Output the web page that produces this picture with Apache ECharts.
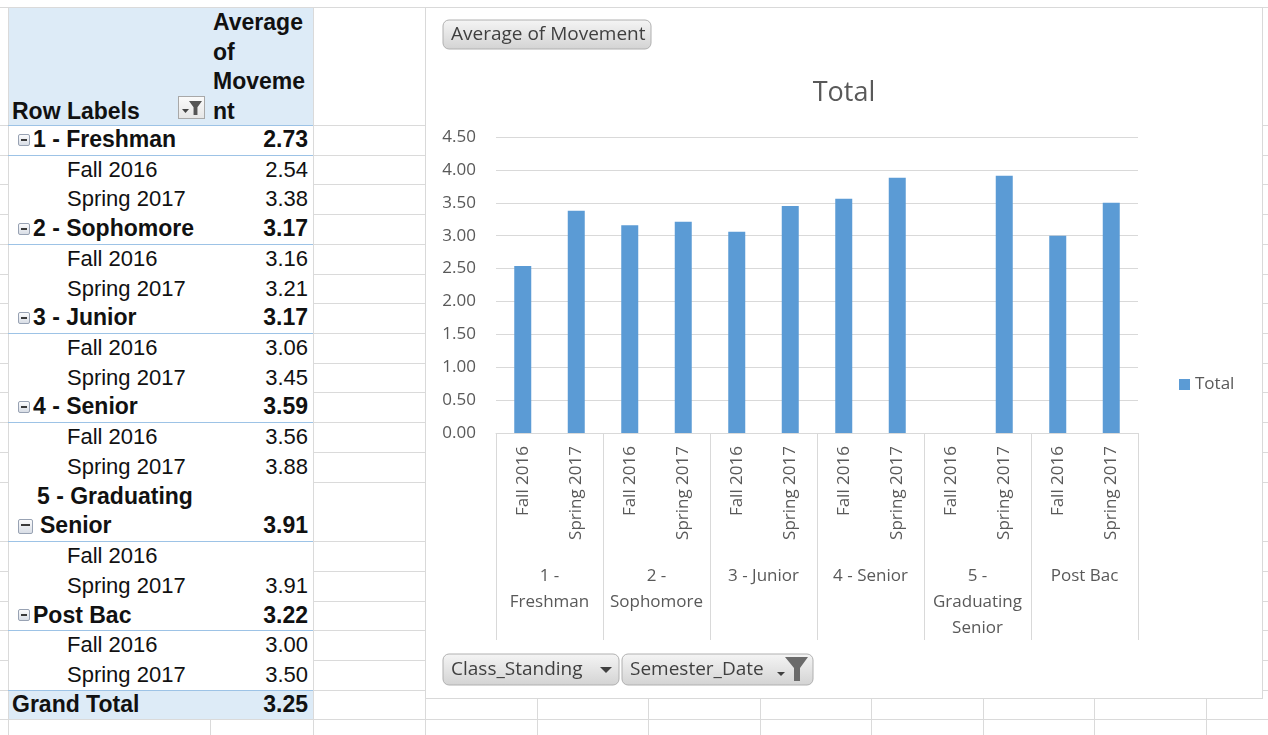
<!DOCTYPE html>
<html>
<head>
<meta charset="utf-8">
<script src="https://cdn.jsdelivr.net/npm/echarts@6/dist/echarts.min.js"></script>
<style>
  body { margin:0; width:1268px; height:735px; overflow:hidden; background:#fff; position:relative; font-family:"Liberation Sans", Arial, sans-serif; }
  .hl { position:absolute; left:0; width:1268px; height:1px; background:#dadada; z-index:0; }
  .vl { position:absolute; top:7px; height:728px; width:1px; background:#dadada; z-index:0; }
  #pivot { position:absolute; left:9px; top:8px; width:304px; height:711px; background:#fff; color:#111; font-size:22px; z-index:2; }
  #pivot .hdr { position:absolute; left:0; top:0; width:304px; height:117px; background:#DDEBF7; font-weight:bold; font-size:23px; }
  #pivot .row { position:absolute; left:0; width:304px; }
  #pivot .row span { position:absolute; white-space:nowrap; }
  #pivot .b { font-weight:bold; font-size:23px; }
  #pivot .blue { position:absolute; left:-1px; width:305px; height:1px; background:#9DC3E6; }
  .minus { position:absolute; left:9px; width:12px; height:12px; border:1px solid #98a2b3; border-radius:2px; box-sizing:border-box; background:linear-gradient(#fbfbfc,#d9dee6); }
  .minus::after { content:''; position:absolute; left:2px; right:2px; top:4px; height:2px; background:#3a3a3a; }
  .fbtn { position:absolute; left:169px; top:88px; width:27px; height:23px; box-sizing:border-box; border:1px solid #a8a8a8; background:linear-gradient(#fafafa,#e6e6e6); }
  .fbtn .fun { position:absolute; left:10px; top:4px; width:13px; height:14px; background:#555; clip-path:polygon(0 0,100% 0,65% 45%,65% 100%,35% 100%,35% 45%); }
  .fbtn .arr { position:absolute; left:3px; top:12px; width:7px; height:4px; background:#444; clip-path:polygon(0 0,100% 0,50% 100%); }
  #chart { position:absolute; left:425px; top:7px; width:838px; height:692px; box-sizing:border-box; border:1px solid #d9d9d9; background:#fff; z-index:2; }
</style>
</head>
<body>
<div id="pivot"></div>
<div id="chart"></div>
<script>
// pivot data
var groups = ['1 - Freshman', '2 - Sophomore', '3 - Junior', '4 - Senior', '5 - Graduating Senior', 'Post Bac'];
var groupAxisLabels = ['1 -\nFreshman', '2 -\nSophomore', '3 - Junior', '4 - Senior', '5 -\nGraduating\nSenior', 'Post Bac'];
var semesters = ['Fall 2016', 'Spring 2017'];
var fall2016 = [2.54, 3.16, 3.06, 3.56, null, 3.00];
var spring2017 = [3.38, 3.21, 3.45, 3.88, 3.91, 3.50];
var groupAverage = [2.73, 3.17, 3.17, 3.59, 3.91, 3.22];
var grandTotal = 3.25;

var unit = 29.72;

// spreadsheet grid behind everything
(function () {
  var ys = [7, 125];
  for (var k = 1; k <= 20; k++) { if (k !== 13) ys.push(Math.round(125 + unit * k)); }
  ys.forEach(function (y) {
    var d = document.createElement('div'); d.className = 'hl'; d.style.top = y + 'px';
    document.body.insertBefore(d, document.body.firstChild);
  });
  [8, 210, 313, 425, 537, 648, 760, 871, 983, 1094, 1206].forEach(function (x) {
    var d = document.createElement('div'); d.className = 'vl'; d.style.left = x + 'px';
    document.body.insertBefore(d, document.body.firstChild);
  });
})();

// pivot table
(function () {
  var pivot = document.getElementById('pivot');
  pivot.innerHTML =
    '<div class="hdr">' +
    '<span style="position:absolute;left:204px;top:0;line-height:29.5px">Average<br>of<br>Moveme<br>nt</span>' +
    '<span style="position:absolute;left:3px;top:88.5px;line-height:29.5px">Row Labels</span>' +
    '<div class="fbtn"><div class="arr"></div><div class="fun"></div></div>' +
    '</div>';
  function blue(y) {
    var d = document.createElement('div'); d.className = 'blue'; d.style.top = Math.round(y) + 'px'; pivot.appendChild(d);
  }
  function fmt(v) { return v == null ? '' : v.toFixed(2); }
  var top = 117;
  blue(top);
  groups.forEach(function (g, i) {
    var h = i === 4 ? unit * 2 : unit;
    var r = document.createElement('div');
    r.className = 'row b'; r.style.top = top + 'px'; r.style.height = h + 'px';
    if (i === 4) {
      r.innerHTML = '<span style="left:28px;top:0;line-height:' + unit + 'px">5 - Graduating</span>' +
        '<div class="minus" style="top:' + (unit + 8) + 'px;width:15px;height:15px"></div>' +
        '<span style="left:31px;top:' + unit + 'px;line-height:' + unit + 'px">Senior</span>' +
        '<span style="right:5px;top:' + unit + 'px;line-height:' + unit + 'px">' + fmt(groupAverage[i]) + '</span>';
    } else {
      r.innerHTML = '<div class="minus" style="top:' + ((h - 12) / 2) + 'px"></div>' +
        '<span style="left:24px;top:0;line-height:' + h + 'px">' + g + '</span>' +
        '<span style="right:5px;top:0;line-height:' + h + 'px">' + fmt(groupAverage[i]) + '</span>';
    }
    pivot.appendChild(r);
    top += h;
    blue(top);
    [fall2016[i], spring2017[i]].forEach(function (v, j) {
      var c = document.createElement('div');
      c.className = 'row'; c.style.top = top + 'px'; c.style.height = unit + 'px';
      c.innerHTML = '<span style="left:58px;top:0;line-height:' + unit + 'px">' + semesters[j] + '</span>' +
        '<span style="right:5px;top:0;line-height:' + unit + 'px">' + fmt(v) + '</span>';
      pivot.appendChild(c);
      top += unit;
    });
  });
  var t = document.createElement('div');
  t.className = 'row b'; t.style.top = top + 'px'; t.style.height = unit + 'px'; t.style.background = '#DDEBF7';
  t.innerHTML = '<span style="left:3px;top:0;line-height:' + unit + 'px">Grand Total</span>' +
    '<span style="right:5px;top:0;line-height:' + unit + 'px">' + fmt(grandTotal) + '</span>';
  pivot.appendChild(t);
  blue(top);
})();

// chart data: one bar per semester inside each class standing
var semCats = [], barData = [];
groups.forEach(function (g, i) {
  semCats.push(g + '|' + semesters[0], g + '|' + semesters[1]);
  barData.push(fall2016[i], spring2017[i]);
});

var F = '"Open Sans", sans-serif';

function grad() {
  return new echarts.graphic.LinearGradient(0, 0, 0, 1, [
    { offset: 0, color: '#f5f5f5' },
    { offset: 1, color: '#d3d3d3' }
  ]);
}
function fieldButton(x, y, w, h, label, extra) {
  return {
    type: 'group', x: x, y: y,
    children: [
      { type: 'rect', shape: { x: 0, y: 0, width: w, height: h, r: 6 }, style: { fill: grad(), stroke: '#b0b0b0', lineWidth: 1 } },
      { type: 'text', x: 8, y: h / 2, style: { text: label, fill: '#3f3f3f', fontSize: 19, fontFamily: F, verticalAlign: 'middle' } }
    ].concat(extra || [])
  };
}

var chart = echarts.init(document.getElementById('chart'));
chart.setOption({
  animation: false,
  textStyle: { fontFamily: F },
  title: {
    text: 'Total', left: 'center', top: 67,
    textStyle: { fontSize: 27, fontWeight: 'normal', color: '#595959', fontFamily: F }
  },
  legend: {
    data: ['Total'], left: 748, top: 363, icon: 'rect', itemWidth: 11, itemHeight: 11,
    textStyle: { fontSize: 17, color: '#595959', fontFamily: F }
  },
  grid: { left: 70, right: 124, top: 129, bottom: 265, containLabel: false, outerBoundsMode: 'none' },
  xAxis: [
    {
      type: 'category', data: semCats, position: 'bottom',
      axisLine: { lineStyle: { color: '#d9d9d9' } },
      axisTick: { show: false },
      axisLabel: {
        rotate: 90, interval: 0, margin: 13, color: '#595959', fontSize: 17, fontFamily: F,
        formatter: function (v) { return v.split('|')[1]; }
      }
    },
    {
      type: 'category', data: groupAxisLabels, position: 'bottom',
      axisLine: { show: false },
      axisTick: { show: true, interval: 0, length: 207, lineStyle: { color: '#d9d9d9' } },
      axisLabel: { interval: 0, margin: 130, color: '#595959', fontSize: 17, lineHeight: 26, fontFamily: F },
      splitLine: { show: false }
    }
  ],
  yAxis: {
    type: 'value', min: 0, max: 4.5, interval: 0.5,
    axisLine: { show: false }, axisTick: { show: false },
    splitLine: { lineStyle: { color: '#d9d9d9' } },
    axisLabel: { margin: 20, color: '#595959', fontSize: 17, fontFamily: F, formatter: function (v) { return v.toFixed(2); } }
  },
  series: [{
    name: 'Total', type: 'bar', data: barData, barWidth: 17,
    itemStyle: { color: '#5B9BD5' }
  }],
  graphic: [
    fieldButton(17, 12, 208, 29, 'Average of Movement'),
    fieldButton(17, 646, 176, 31, 'Class_Standing', [
      { type: 'polygon', shape: { points: [[157, 13], [169, 13], [163, 19]] }, style: { fill: '#404040' } }
    ]),
    fieldButton(196, 646, 191, 31, 'Semester_Date', [
      { type: 'polygon', shape: { points: [[155, 18], [163, 18], [159, 22]] }, style: { fill: '#404040' } },
      { type: 'polygon', shape: { points: [[163, 3], [186, 3], [178, 14], [178, 27], [172, 27], [172, 14]] }, style: { fill: '#6b6b6b' } }
    ])
  ]
});
</script>
</body>
</html>
